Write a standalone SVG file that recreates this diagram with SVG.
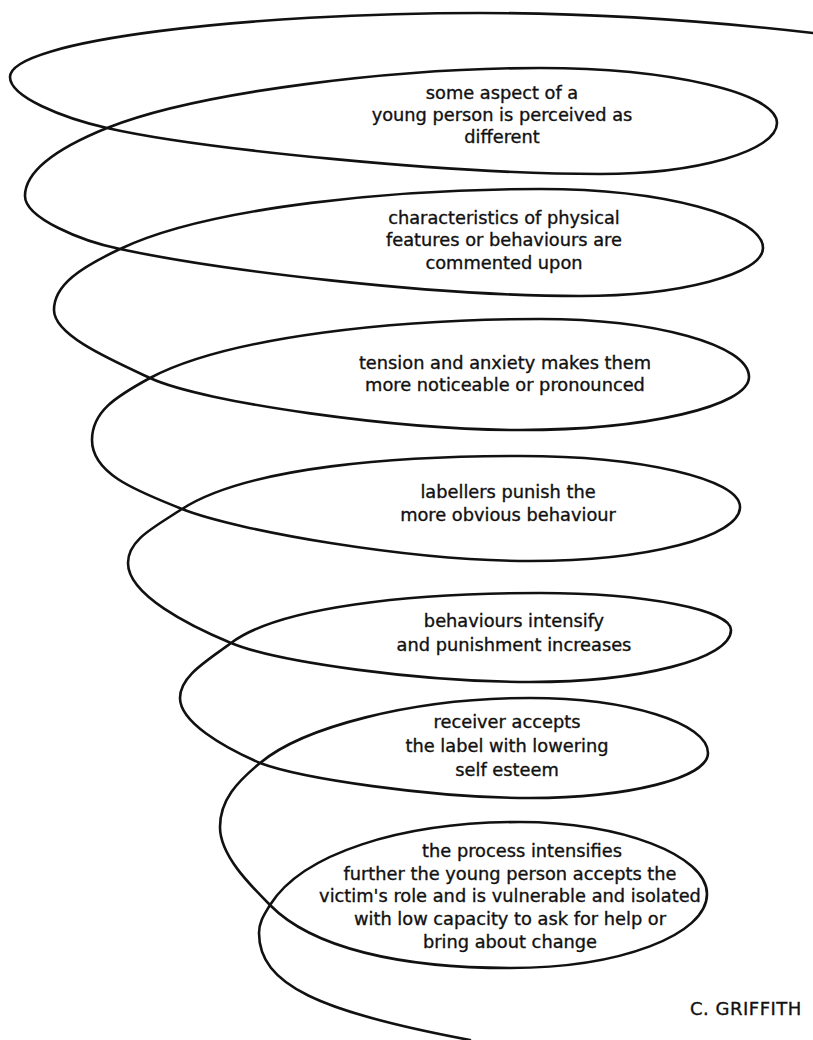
<svg xmlns="http://www.w3.org/2000/svg" width="813" height="1040" viewBox="0 0 813 1040">
<style>
.sp{fill:none;stroke:#111;stroke-width:2.6;stroke-linecap:round;stroke-linejoin:round}
.t{font-family:"DejaVu Sans","Liberation Sans",sans-serif;font-size:17.8px;fill:#111;stroke:#111;stroke-width:0.35px;text-anchor:middle}
.a{font-family:"DejaVu Sans","Liberation Sans",sans-serif;font-size:18px;fill:#111;stroke:#111;stroke-width:0.35px;letter-spacing:0.5px}
</style>
<rect width="813" height="1040" fill="#fff"/>
<g id="connectors">
<path id="spiral" class="sp" d="M813,33 C700,20 580,13 480,13 C250,13 10,40 10,77
C10,97 63,118 107,128 C200,149 450,174 600,174 C697,174 777,151 777,123 C777,93 670,68 540,68 C400,68 200,91 107,128 C65,145 25,168 25,196
C25,218 81,241 120,249 C218,270 430,296 580,296 C680,296 763,274 763,248 C763,216 663,189 540,189 C400,189 210,206 120,249 C80,268 54,285 54,310
C54,335 109,359 150,378 C204,403 400,430 520,430 C646,430 749,406 749,377 C749,345 655,319 540,319 C400,319 229,336 150,378 C115,397 92,412 92,440
C92,475 140,492 182,509 C238,531 410,561 530,561 C646,561 740,537 740,507 C740,479 641,456 520,456 C400,456 249,466 182,509 C153,528 128,540 128,563
C128,595 190,626 231,643 C277,662 420,682 530,682 C640,682 731,659 731,630 C731,610 645,593 540,593 C410,593 279,607 231,643 C207,661 180,676 180,698
C180,722 223,747 260,763 C300,778 430,798 530,798 C628,798 708,778 708,753 C708,723 628,698 530,698 C410,698 302,728 260,763 C237,782 220,800 220,827
C220,855 249,884 270,905 C312,948 400,968 510,968 C620,968 707,935 707,894 C707,855 620,822 520,822 C400,822 302,854 270,905 C264,915 259,922 259,933
C259,985 320,1012 470,1040"/>
</g>
<g id="node1">
<text class="t" x="502" y="99">some aspect of a</text>
<text class="t" x="502" y="121">young person is perceived as</text>
<text class="t" x="502" y="143">different</text>
</g>
<g id="node2">
<text class="t" x="504" y="224">characteristics of physical</text>
<text class="t" x="504" y="246">features or behaviours are</text>
<text class="t" x="504" y="269">commented upon</text>
</g>
<g id="node3">
<text class="t" x="505" y="369">tension and anxiety makes them</text>
<text class="t" x="505" y="391">more noticeable or pronounced</text>
</g>
<g id="node4">
<text class="t" x="508" y="498">labellers punish the</text>
<text class="t" x="508" y="521">more obvious behaviour</text>
</g>
<g id="node5">
<text class="t" x="514" y="627">behaviours intensify</text>
<text class="t" x="514" y="651">and punishment increases</text>
</g>
<g id="node6">
<text class="t" x="507" y="728">receiver accepts</text>
<text class="t" x="507" y="752">the label with lowering</text>
<text class="t" x="507" y="776">self esteem</text>
</g>
<g id="node7">
<text class="t" x="522" y="857">the process intensifies</text>
<text class="t" x="510" y="880">further the young person accepts the</text>
<text class="t" x="510" y="902">victim's role and is vulnerable and isolated</text>
<text class="t" x="510" y="925">with low capacity to ask for help or</text>
<text class="t" x="510" y="948">bring about change</text>
</g>
<g id="credit">
<text class="a" x="690" y="1015">C. GRIFFITH</text>
</g>
</svg>
